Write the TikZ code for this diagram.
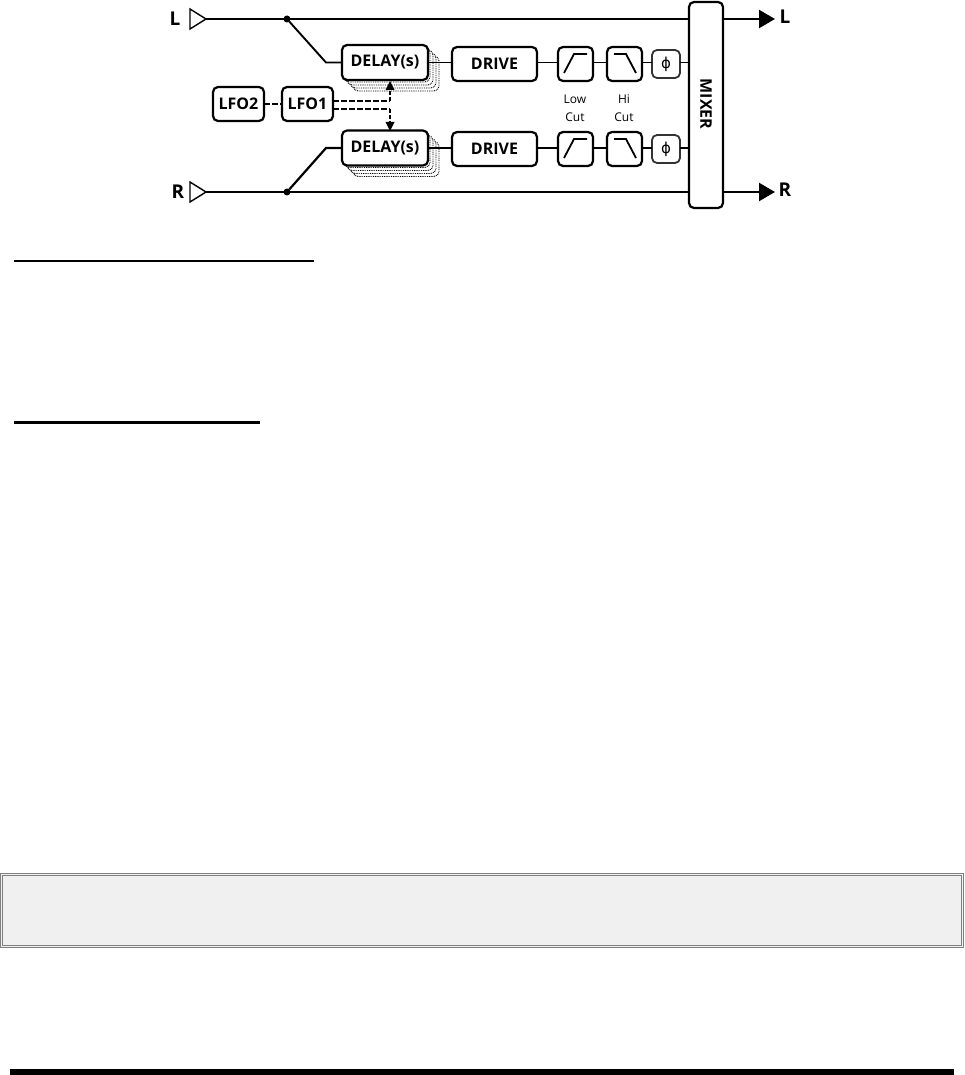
\documentclass[tikz,border=0pt]{standalone}
\usepackage{fontspec}
\setmainfont{Open Sans}
\newfontfamily\phifont{DejaVu Sans}
\usetikzlibrary{arrows.meta}
\tikzset{
 x=1pt,y=-1pt,
 blk/.style={draw=black,fill=white,line width=2.2pt,rounded corners=5pt,inner sep=0pt,outer sep=0pt,align=center,font=\fontsize{16}{18}\selectfont\bfseries},
 delaybox/.style={blk,minimum width=86pt,minimum height=35pt},
 drivebox/.style={blk,minimum width=85pt,minimum height=34pt},
 lfobox/.style={blk,minimum width=51pt,minimum height=34pt},
 filterbox/.style={blk,minimum width=35pt,minimum height=34pt},
 phibox/.style={blk,draw=black!80,line width=1.8pt,minimum width=28pt,minimum height=28pt,font=\fontsize{15}{16}\selectfont\phifont},
 mixbox/.style={blk,minimum width=34pt,minimum height=206pt},
 shadow/.style={draw=black,fill=white,line width=0.9pt,dash pattern=on 0.9pt off 0.9pt,rounded corners=5pt,minimum width=86pt,minimum height=35pt,inner sep=0pt,outer sep=0pt},
 wire/.style={draw=black,line width=2.2pt},
 thinwire/.style={draw=black,line width=1.9pt},
 dashwire/.style={draw=black,line width=2pt,dash pattern=on 5.5pt off 2.5pt},
 vdash/.style={draw=black,line width=1.7pt,dash pattern=on 4pt off 2pt},
 curve/.style={draw=black,line width=1.8pt},
 dotnode/.style={circle,fill=black,minimum size=7pt,inner sep=0pt,outer sep=0pt},
 inport/.style={draw=black,line width=1.4pt,fill=white,line join=miter},
 outarrow/.style={wire,-{Triangle[length=16pt,width=18pt]}},
 io/.style={font=\fontsize{19}{20}\selectfont\bfseries,inner sep=0pt},
 small/.style={font=\fontsize{12}{18}\selectfont,align=center,inner sep=0pt},
 rulebar/.style={fill=black,draw=none},
 notebox/.style={fill=black!6,draw=black!50,line width=0.9pt},
 tipfill/.style={fill=black,draw=none},
}
\begin{document}
\begin{tikzpicture}
\useasboundingbox (0,0) rectangle (964,1075);
% input triangles
\coordinate (inL) at (206,19);
\coordinate (inR) at (206,192);
\draw[inport] (190,9) -- (inL) -- (190,29) -- cycle;
\draw[inport] (190,182) -- (inR) -- (190,202) -- cycle;
\node[io] (lL) at (175,19) {L};
\node[io] (lR) at (178,192) {R};
% delay stacks
\foreach \o/\n in {11/d,8/c,5/b,2/a}{
  \node[shadow] (st\n) at ({385+\o},{62.5+\o}) {};
  \node[shadow] (sb\n) at ({385+\o},{148+\o}) {};
}
% boxes
\node[delaybox] (d1) at (385,62.5) {DELAY(s)};
\node[delaybox] (d2) at (385,148) {DELAY(s)};
\node[drivebox] (dr1) at (494.5,64) {DRIVE};
\node[drivebox] (dr2) at (494.5,149) {DRIVE};
\node[filterbox] (lc1) at (575.5,64) {};
\node[filterbox] (hc1) at (624.5,64) {};
\node[filterbox] (lc2) at (575.5,149) {};
\node[filterbox] (hc2) at (624.5,149) {};
\node[phibox] (ph1) at (666,64) {ϕ};
\node[phibox] (ph2) at (666,149) {ϕ};
\node[mixbox] (mix) at (706,105) {};
\node[rotate=-90,font=\fontsize{16}{18}\selectfont\bfseries,inner sep=0pt] (mixt) at (706,104) {MIXER};
\node[lfobox] (lfo2) at (238.5,104) {LFO2};
\node[lfobox] (lfo1) at (307.5,104) {LFO1};
% labels
\node[small] (lowc) at (575,108) {Low\\Cut};
\node[small] (hic) at (624,108) {Hi\\Cut};
% main lines
\node[dotnode] (jL) at (287,19) {};
\node[dotnode] (jR) at (287,192) {};
\draw[wire] (inL) -- (inL -| mix.west);
\draw[wire] (inR) -- (inR -| mix.west);
\coordinate (kL) at (326,62.5);
\coordinate (kR) at (326,148);
\draw[thinwire] (jL) -- (kL) -- (d1.west);
\draw[wire] (jR) -- (kR) -- (d2.west);
\draw[thinwire] (d1.east) -- (d1.east -| dr1.west);
\draw[wire] (d2.east) -- (d2.east -| dr2.west);
\draw[thinwire] (kL -| dr1.east) -- (kL -| lc1.west);
\draw[thinwire] (kL -| lc1.east) -- (kL -| hc1.west);
\draw[thinwire] (kL -| hc1.east) -- (kL -| ph1.west);
\draw[thinwire] (kL -| ph1.east) -- (kL -| mix.west);
\draw[wire] (kR -| dr2.east) -- (kR -| lc2.west);
\draw[wire] (kR -| lc2.east) -- (kR -| hc2.west);
\draw[wire] (kR -| hc2.east) -- (kR -| ph2.west);
\draw[wire] (kR -| ph2.east) -- (kR -| mix.west);
% outputs
\coordinate (outL) at (775,19);
\coordinate (outR) at (775,192);
\draw[outarrow] (outL -| mix.east) -- (outL);
\draw[outarrow] (outR -| mix.east) -- (outR);
\node[io] (oL) at (785,17) {L};
\node[io] (oR) at (785,190) {R};
% filter curves
\draw[curve] (564,73) -- (574,54) -- (587,54);
\draw[curve] (614,54) -- (626,54) -- (636,73);
\draw[curve] (564,158) -- (574,139) -- (587,139);
\draw[curve] (614,139) -- (626,139) -- (636,158);
% modulation
\draw[dashwire] (lfo2.east) -- (lfo1.west);
\coordinate (mU) at (390,101);
\coordinate (mD) at (390,109);
\draw[dashwire] (lfo1.east |- mU) -- (mU);
\draw[dashwire] (lfo1.east |- mD) -- (mD);
\draw[vdash] (mU) -- (390,90);
\draw[vdash] (mD) -- (390,123);
\fill[tipfill] (390,81) -- (394.5,90) -- (385.5,90) -- cycle;
\fill[tipfill] (390,131) -- (394.5,122) -- (385.5,122) -- cycle;
% text rules
\fill[rulebar] (14,260) rectangle (314,262);
\fill[rulebar] (14,421) rectangle (260,424);
% note box
\draw[notebox] (0.5,873.7) rectangle (963.5,947);
\draw[notebox] (2.7,875.7) rectangle (961.3,945);
% bottom rule
\fill[rulebar] (10,1068.5) rectangle (954,1075);
\end{tikzpicture}
\end{document}
